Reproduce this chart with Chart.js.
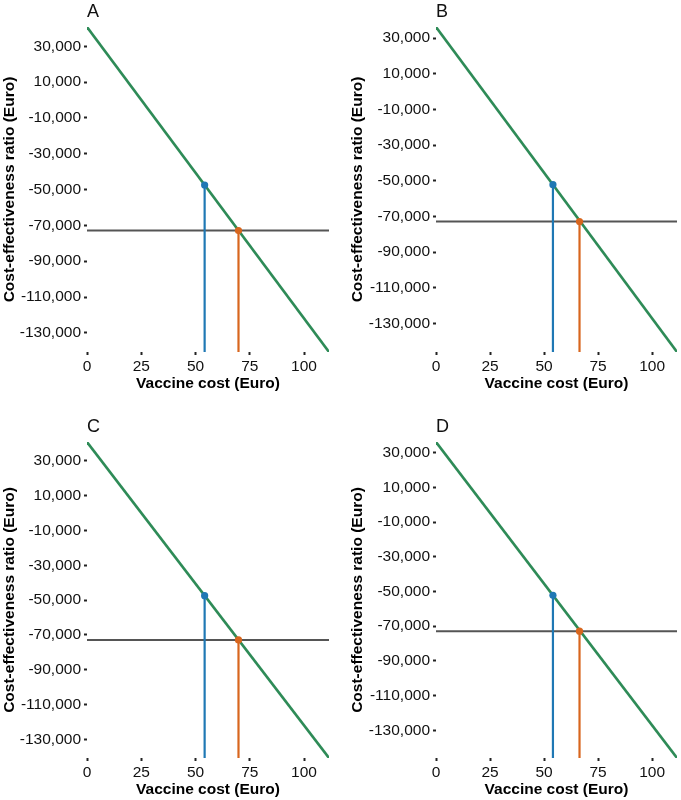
<!DOCTYPE html>
<html>
<head>
<meta charset="utf-8">
<script src="https://cdn.jsdelivr.net/npm/chart.js@4/dist/chart.umd.min.js"></script>
<style>
  body { margin: 0; background: #fff; }
  #wrap { position: relative; width: 681px; height: 800px; }
  .panel { position: absolute; }
</style>
</head>
<body>
<div id="wrap"></div>
<script>
// data
var panelLabels = ['A', 'B', 'C', 'D'];
var xMax = [111.5, 111.5, 111.5, 111.5];
var lineStartY = [40800, 36200, 40800, 36200];   // ratio at vaccine cost 0
var lineEndY = [-140700, -146000, -140700, -146000];
var blueX = [54.2, 54.1, 54.2, 54.1];
var blueY = [-47450, -52200, -47450, -52200];
var orangeX = [69.8, 66.4, 69.8, 66.4];
var thresholdY = -72900;
var xTicks = [0, 25, 50, 75, 100];
var yTicks = [30000, 10000, -10000, -30000, -50000, -70000, -90000, -110000, -130000];

var xTitle = 'Vaccine cost (Euro)';
var yTitle = 'Cost-effectiveness ratio (Euro)';

// where each panel sits
var boxes = [
  { left: 0,   top: 0,   w: 340, h: 393, pad: { left: 0, top: 27, right: 11, bottom: 0 }, yW: 87 },
  { left: 340, top: 0,   w: 341, h: 393, pad: { left: 8, top: 27, right: 3,  bottom: 0 }, yW: 88 },
  { left: 0,   top: 400, w: 340, h: 399, pad: { left: 0, top: 42, right: 11, bottom: 0 }, yW: 87 },
  { left: 340, top: 400, w: 341, h: 399, pad: { left: 8, top: 42, right: 3,  bottom: 0 }, yW: 88 }
];

var FONT = '"Liberation Sans", Arial, sans-serif';
var green = '#2E8B57', blue = '#1F78B4', orange = '#D8661E', grey = '#555555';

var panelLetter = {
  id: 'panelLetter',
  afterDraw: function (chart, args, opts) {
    var ctx = chart.ctx, area = chart.chartArea;
    ctx.save();
    ctx.font = '18px ' + FONT;
    ctx.fillStyle = '#111';
    ctx.textBaseline = 'middle';
    ctx.textAlign = 'left';
    ctx.fillText(opts.text, area.left, area.top - 15);
    ctx.restore();
  }
};

function makePanel(i) {
  var b = boxes[i];
  var div = document.createElement('div');
  div.className = 'panel';
  div.style.left = b.left + 'px';
  div.style.top = b.top + 'px';
  var cv = document.createElement('canvas');
  cv.width = b.w;
  cv.height = b.h;
  div.appendChild(cv);
  document.getElementById('wrap').appendChild(div);

  var yMin = lineEndY[i], yMax = lineStartY[i];

  new Chart(cv.getContext('2d'), {
    type: 'scatter',
    data: {
      datasets: [
        {
          label: 'orange',
          data: [{ x: orangeX[i], y: yMin }, { x: orangeX[i], y: thresholdY }],
          showLine: true, borderColor: orange, borderWidth: 2.2,
          pointRadius: [0, 3.6], pointBackgroundColor: orange, pointBorderWidth: 0
        },
        {
          label: 'blue',
          data: [{ x: blueX[i], y: yMin }, { x: blueX[i], y: blueY[i] }],
          showLine: true, borderColor: blue, borderWidth: 2.2,
          pointRadius: [0, 3.6], pointBackgroundColor: blue, pointBorderWidth: 0
        },
        {
          label: 'ratio',
          data: [{ x: 0, y: lineStartY[i] }, { x: xMax[i], y: lineEndY[i] }],
          showLine: true, borderColor: green, borderWidth: 2.6, pointRadius: 0
        },
        {
          label: 'threshold',
          data: [{ x: 0, y: thresholdY }, { x: xMax[i], y: thresholdY }],
          showLine: true, borderColor: grey, borderWidth: 2, pointRadius: 0
        }
      ]
    },
    options: {
      responsive: false,
      animation: false,
      layout: { padding: b.pad },
      plugins: {
        legend: { display: false },
        tooltip: { enabled: false },
        panelLetter: { text: panelLabels[i] }
      },
      scales: {
        x: {
          type: 'linear',
          min: 0, max: xMax[i],
          afterBuildTicks: function (s) { s.ticks = xTicks.map(function (v) { return { value: v }; }); },
          afterFit: function (s) { s.height = 41; },
          grid: { display: true, drawOnChartArea: false, drawTicks: true, tickLength: 3, tickWidth: 2, tickColor: '#222' },
          border: { display: false },
          ticks: { padding: 2, color: '#111', font: { family: FONT, size: 15.5 }, maxRotation: 0 },
          title: { display: true, text: xTitle, color: '#000', padding: 0, font: { family: FONT, size: 15.5, weight: 'bold' } }
        },
        y: {
          type: 'linear',
          min: yMin, max: yMax,
          afterBuildTicks: function (s) { s.ticks = yTicks.map(function (v) { return { value: v }; }); },
          afterFit: function (s) { s.width = b.yW; },
          grid: { display: true, drawOnChartArea: false, drawTicks: true, tickLength: 3, tickWidth: 2, tickColor: '#222' },
          border: { display: false },
          ticks: {
            padding: 3, color: '#111', font: { family: FONT, size: 15.5 },
            callback: function (v) { return v.toLocaleString('en-US'); }
          },
          title: { display: true, text: yTitle, color: '#000', padding: 0, font: { family: FONT, size: 15.5, weight: 'bold' } }
        }
      }
    },
    plugins: [panelLetter]
  });
}

for (var i = 0; i < panelLabels.length; i++) makePanel(i);
</script>
</body>
</html>
